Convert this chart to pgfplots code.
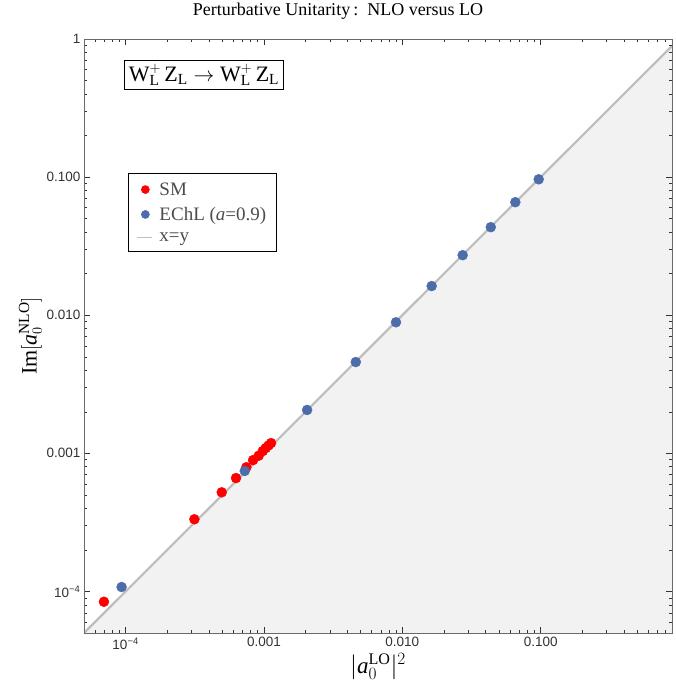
\documentclass[border=0pt]{standalone}
\usepackage{fontspec}
\setmainfont{Liberation Serif}
\setsansfont{Liberation Sans}
\usepackage{pgfplots}
\pgfplotsset{compat=1.18}

\definecolor{smred}{RGB}{255,0,0}
\definecolor{echlblue}{RGB}{76,108,170}
\definecolor{shade}{RGB}{242,242,242}
\definecolor{diag}{RGB}{190,190,190}
\definecolor{frame}{RGB}{105,105,105}

\pgfplotsset{
    dotlegend/.style={legend image code/.code={\draw[##1, mark size=4pt] plot coordinates {(10.5pt,0pt)};}},
    linelegend/.style={legend image code/.code={\draw[##1] (2pt,0pt) -- (17pt,0pt);}},
}

\begin{document}
\begin{tikzpicture}
\begin{loglogaxis}[
    scale only axis, width=588pt, height=594pt,
    xmin=5e-5, xmax=0.89, ymin=5e-5, ymax=1,
    axis on top,
    axis line style={frame, line width=0.6pt},
    tick align=inside,
    major tick length=6pt, minor tick length=3.5pt,
    tick style={black!80, line width=0.5pt},
    xtick={1e-4,1e-3,1e-2,1e-1},
    xticklabels={10\textsuperscript{−4},0.001,0.010,0.100},
    ytick={1e-4,1e-3,1e-2,1e-1,1},
    yticklabels={10\textsuperscript{−4},0.001,0.010,0.100,1},
    minor xtick={6e-5,7e-5,8e-5,9e-5,2e-4,3e-4,4e-4,5e-4,6e-4,7e-4,8e-4,9e-4,
                 2e-3,3e-3,4e-3,5e-3,6e-3,7e-3,8e-3,9e-3,2e-2,3e-2,4e-2,5e-2,6e-2,7e-2,8e-2,9e-2,
                 0.2,0.3,0.4,0.5,0.6,0.7,0.8},
    minor ytick={6e-5,7e-5,8e-5,9e-5,2e-4,3e-4,4e-4,5e-4,6e-4,7e-4,8e-4,9e-4,
                 2e-3,3e-3,4e-3,5e-3,6e-3,7e-3,8e-3,9e-3,2e-2,3e-2,4e-2,5e-2,6e-2,7e-2,8e-2,9e-2,
                 0.2,0.3,0.4,0.5,0.6,0.7,0.8,0.9},
    tick label style={font=\sffamily\fontsize{13.5}{13.5}\selectfont, text=black!80},
    xticklabel style={yshift=-1pt},
    xlabel={$|\mathit{a}_0^{\mathrm{LO}}|^2$},
    ylabel={$\mathrm{Im}[\mathit{a}_0^{\mathrm{NLO}}]$},
    label style={font=\fontsize{22}{22}\selectfont},
    xlabel style={yshift=3pt, font=\fontsize{23}{23}\selectfont},
    ylabel style={yshift=-2pt},
    title={Perturbative Unitarity\,:\ \ NLO versus LO},
    title style={at={(0.432,1)}, anchor=base, yshift=17pt, font=\fontsize{18}{18}\selectfont},
    legend style={at={(0.0748,0.774)}, anchor=north west, draw=black, line width=0.6pt,
                  font=\fontsize{19}{19}\selectfont, text=black!70,
                  inner xsep=8pt, inner ysep=7pt, row sep=6.5pt,
                  /tikz/every odd column/.append style={column sep=5pt}},
    legend cell align=left,
]
% shaded region below x=y
\addplot[fill=shade, draw=none, forget plot] coordinates
    {(5e-5,5e-5) (1,1) (1,5e-5) (5e-5,5e-5)};
\addplot[diag, line width=2.2pt, forget plot] coordinates {(5e-5,5e-5) (1,1)};

% SM
\addplot[only marks, mark=*, mark size=5pt, color=smred, dotlegend] coordinates {
    (6.97e-5,8.42e-5) (3.14e-4,3.33e-4) (4.95e-4,5.22e-4) (6.28e-4,6.62e-4)
    (7.46e-4,7.93e-4) (8.34e-4,8.93e-4) (9.16e-4,9.61e-4) (9.80e-4,1.038e-3)
    (1.03e-3,1.092e-3) (1.079e-3,1.14e-3) (1.125e-3,1.186e-3)};
\addlegendentry{SM}

% EChL a=0.9
\addplot[only marks, mark=*, mark size=5pt, color=echlblue, dotlegend] coordinates {
    (9.35e-5,1.076e-4) (7.26e-4,7.45e-4) (2.05e-3,2.06e-3) (4.61e-3,4.58e-3)
    (9.0e-3,8.89e-3) (0.0163,0.01626) (0.0273,0.0272) (0.0436,0.0434)
    (0.0656,0.0658) (0.0968,0.0964)};
\addlegendentry{EChL (\textit{a}=0.9)}

\addlegendimage{diag, line width=1.2pt, linelegend}
\addlegendentry{x=y}

\node[draw=black, line width=0.6pt, inner xsep=4pt, inner ysep=4pt, fill=white,
      font=\fontsize{22}{22}\selectfont] at (axis description cs:0.204,0.939)
    {$\mathrm{W}_{\mathrm{L}}^{+}\,\mathrm{Z}_{\mathrm{L}}\rightarrow\mathrm{W}_{\mathrm{L}}^{+}\,\mathrm{Z}_{\mathrm{L}}$};
\end{loglogaxis}
\pgfresetboundingbox
\useasboundingbox (-84pt,-55pt) rectangle (591pt,633pt);
\end{tikzpicture}
\end{document}
